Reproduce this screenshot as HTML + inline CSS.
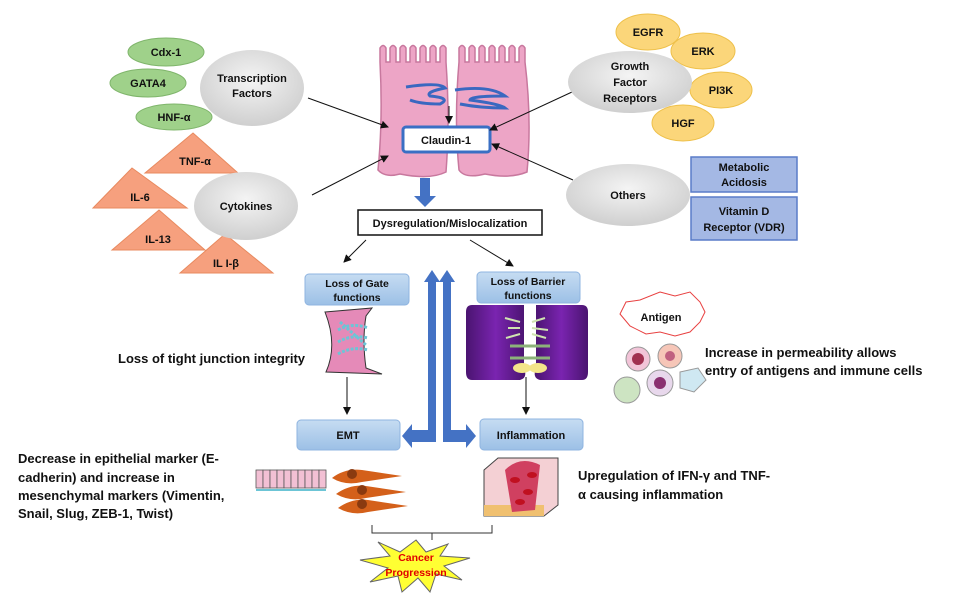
<!DOCTYPE html>
<html><head><meta charset="utf-8"><style>
html,body{margin:0;padding:0;background:#fff}
svg{display:block}
text{font-family:"Liberation Sans",sans-serif;font-weight:bold;fill:#111}
</style></head><body>
<svg width="961" height="601" viewBox="0 0 961 601" xmlns="http://www.w3.org/2000/svg">
<defs>
<radialGradient id="gr" cx="50%" cy="40%" r="60%"><stop offset="0" stop-color="#f4f4f4"/><stop offset="1" stop-color="#cfcfcf"/></radialGradient>
<linearGradient id="bl" x1="0" y1="0" x2="0" y2="1"><stop offset="0" stop-color="#c6dcf2"/><stop offset="1" stop-color="#9cc0e6"/></linearGradient>
<linearGradient id="pu" x1="0" y1="0" x2="1" y2="0"><stop offset="0" stop-color="#4a1470"/><stop offset="0.5" stop-color="#7a24b0"/><stop offset="1" stop-color="#4a1470"/></linearGradient>
<marker id="ar" markerWidth="8" markerHeight="8" refX="7" refY="4" orient="auto" markerUnits="userSpaceOnUse"><path d="M0,0 L8,4 L0,8 Z" fill="#111"/></marker>
</defs>

<!-- green ellipses -->
<g fill="#9fd18a" stroke="#7fb56b" stroke-width="1">
<ellipse cx="166" cy="52" rx="38" ry="14"/>
<ellipse cx="148" cy="83" rx="38" ry="14"/>
<ellipse cx="174" cy="117" rx="38" ry="13"/>
</g>
<text x="166" y="56" font-size="11" text-anchor="middle">Cdx-1</text>
<text x="148" y="87" font-size="11" text-anchor="middle">GATA4</text>
<text x="174" y="121" font-size="11" text-anchor="middle">HNF-α</text>
<ellipse cx="252" cy="88" rx="52" ry="38" fill="url(#gr)"/>
<text x="252" y="82" font-size="11" text-anchor="middle">Transcription</text>
<text x="252" y="97" font-size="11" text-anchor="middle">Factors</text>

<!-- triangles -->
<g fill="#f6a07e" stroke="#e88a5f" stroke-width="1">
<polygon points="193,133 238,173 145,173"/>
<polygon points="132,168 187,208 93,208"/>
<polygon points="159,210 205,250 112,250"/>
<polygon points="225,234 273,273 180,273"/>
</g>
<text x="195" y="165" font-size="11" text-anchor="middle">TNF-α</text>
<text x="140" y="201" font-size="11" text-anchor="middle">IL-6</text>
<text x="158" y="243" font-size="11" text-anchor="middle">IL-13</text>
<text x="226" y="267" font-size="11" text-anchor="middle">IL I-β</text>
<ellipse cx="246" cy="206" rx="52" ry="34" fill="url(#gr)"/>
<text x="246" y="210" font-size="11" text-anchor="middle">Cytokines</text>

<!-- cells -->
<g fill="#eda5c6" stroke="#c8789e" stroke-width="1.5">
<path d="M380,62 L380,48 Q383,43 386,48 L386,62 L390,62 L390,48 Q393,43 396,48 L396,62 L400,62 L400,48 Q403,43 406,48 L406,62 L410,62 L410,48 Q413,43 416,48 L416,62 L420,62 L420,48 Q423,43 426,48 L426,62 L430,62 L430,48 Q433,43 436,48 L436,62 L440,62 L440,48 Q443,43 446,48 L446,62 Q450,120 446,172 Q430,180 400,174 Q385,178 378,170 Q383,120 380,62 Z"/>
<path d="M459,62 L459,48 Q462,43 465,48 L465,62 L469,62 L469,48 Q472,43 475,48 L475,62 L479,62 L479,48 Q482,43 485,48 L485,62 L489,62 L489,48 Q492,43 495,48 L495,62 L499,62 L499,48 Q502,43 505,48 L505,62 L509,62 L509,48 Q512,43 515,48 L515,62 L519,62 L519,48 Q522,43 525,48 L525,62 Q532,120 527,172 Q510,179 485,174 Q465,179 459,170 Q454,120 459,62 Z"/>
</g>
<g fill="none" stroke="#3a68c0" stroke-width="3">
<path d="M406,87 Q440,82 445,88 Q425,92 430,96 Q452,98 440,104 Q420,104 410,100"/>
<path d="M455,90 Q490,85 505,96 Q470,96 470,100 Q500,104 505,108 Q480,108 460,104"/>
</g>
<line x1="449" y1="106" x2="449" y2="123" stroke="#111" stroke-width="1" marker-end="url(#ar)"/>
<rect x="403" y="127" width="87" height="25" rx="3" fill="#fff" stroke="#3a6fc4" stroke-width="3"/>
<text x="446" y="144" font-size="11" text-anchor="middle">Claudin-1</text>

<!-- connector lines -->
<g stroke="#111" stroke-width="1" fill="none" marker-end="url(#ar)">
<line x1="308" y1="98" x2="388" y2="127"/>
<line x1="312" y1="195" x2="388" y2="156"/>
<line x1="572" y1="92" x2="490" y2="130"/>
<line x1="573" y1="180" x2="492" y2="144"/>
<line x1="366" y1="240" x2="344" y2="262"/>
<line x1="470" y1="240" x2="513" y2="266"/>
<line x1="347" y1="377" x2="347" y2="414"/>
<line x1="526" y1="377" x2="526" y2="414"/>
</g>

<!-- right side -->
<g fill="#fbd67a" stroke="#eec04a" stroke-width="1">
<ellipse cx="648" cy="32" rx="32" ry="18"/>
<ellipse cx="703" cy="51" rx="32" ry="18"/>
<ellipse cx="721" cy="90" rx="31" ry="18"/>
<ellipse cx="683" cy="123" rx="31" ry="18"/>
</g>
<ellipse cx="630" cy="82" rx="62" ry="31" fill="url(#gr)"/>
<text x="648" y="36" font-size="11" text-anchor="middle">EGFR</text>
<text x="703" y="55" font-size="11" text-anchor="middle">ERK</text>
<text x="721" y="94" font-size="11" text-anchor="middle">PI3K</text>
<text x="683" y="127" font-size="11" text-anchor="middle">HGF</text>
<text x="630" y="70" font-size="11" text-anchor="middle">Growth</text>
<text x="630" y="86" font-size="11" text-anchor="middle">Factor</text>
<text x="630" y="102" font-size="11" text-anchor="middle">Receptors</text>
<ellipse cx="628" cy="195" rx="62" ry="31" fill="url(#gr)"/>
<text x="628" y="199" font-size="11" text-anchor="middle">Others</text>
<rect x="691" y="157" width="106" height="35" fill="#a4b8e4" stroke="#5a7cc8" stroke-width="1.5"/>
<rect x="691" y="197" width="106" height="43" fill="#a4b8e4" stroke="#5a7cc8" stroke-width="1.5"/>
<text x="744" y="171" font-size="11" text-anchor="middle">Metabolic</text>
<text x="744" y="186" font-size="11" text-anchor="middle">Acidosis</text>
<text x="744" y="215" font-size="11" text-anchor="middle">Vitamin D</text>
<text x="744" y="231" font-size="11" text-anchor="middle">Receptor (VDR)</text>

<!-- blue down arrow -->
<polygon points="420,178 430,178 430,196 436,196 425,207 414,196 420,196" fill="#4472c4"/>
<rect x="358" y="210" width="184" height="25" fill="#fff" stroke="#111" stroke-width="1.5"/>
<text x="450" y="227" font-size="11" text-anchor="middle">Dysregulation/Mislocalization</text>

<!-- blue boxes -->
<g fill="url(#bl)" stroke="#8fb4e0" stroke-width="1">
<rect x="305" y="274" width="104" height="31" rx="4"/>
<rect x="477" y="272" width="103" height="31" rx="4"/>
<rect x="297" y="420" width="103" height="30" rx="4"/>
<rect x="480" y="419" width="103" height="31" rx="4"/>
</g>
<text x="357" y="287" font-size="10.5" text-anchor="middle">Loss of Gate</text>
<text x="357" y="301" font-size="10.5" text-anchor="middle">functions</text>
<text x="528" y="285" font-size="10.5" text-anchor="middle">Loss of Barrier</text>
<text x="528" y="299" font-size="10.5" text-anchor="middle">functions</text>
<text x="348" y="439" font-size="11" text-anchor="middle">EMT</text>
<text x="531" y="439" font-size="11" text-anchor="middle">Inflammation</text>

<!-- double arrows -->
<path d="M432,270 L440,282 L436,282 L436,442 L412,442 L412,448 L402,436 L412,424 L412,430 L428,430 L428,282 L424,282 Z" fill="#4472c4"/>
<path d="M447,270 L455,282 L451,282 L451,430 L466,430 L466,424 L476,436 L466,448 L466,442 L443,442 L443,282 L439,282 Z" fill="#4472c4"/>

<!-- gate image -->
<path d="M325,312 L372,308 L366,316 Q362,340 366,368 L382,374 L326,372 Q338,345 325,312 Z" fill="#e58ab8" stroke="#333" stroke-width="1"/>
<g stroke="#6cc5d6" stroke-width="3" fill="none" stroke-dasharray="3,1.5">
<path d="M338,330 Q352,322 368,328"/><path d="M338,342 Q352,334 368,338"/><path d="M338,354 Q352,346 368,350"/><path d="M340,322 L366,345"/>
</g>

<!-- barrier image -->
<path d="M472,305 L524,305 L524,368 Q528,378 520,380 L472,380 Q466,380 466,372 L466,312 Q466,305 472,305 Z" fill="url(#pu)"/>
<path d="M536,305 L582,305 Q588,305 588,312 L588,372 Q588,380 582,380 L540,380 Q532,378 536,368 Z" fill="url(#pu)"/>
<g stroke="#cfe3b0" stroke-width="2" fill="none">
<path d="M505,318 L520,322 M508,328 L520,328 M506,338 L520,334 M545,318 L532,322 M548,330 L532,328 M546,338 L532,334"/>
</g>
<g stroke="#8cb27a" stroke-width="3">
<line x1="510" y1="346" x2="550" y2="346"/><line x1="510" y1="358" x2="550" y2="358"/>
</g>
<ellipse cx="522" cy="368" rx="9" ry="5" fill="#f3e58a"/><ellipse cx="538" cy="368" rx="9" ry="5" fill="#f3e58a"/>

<!-- antigen -->
<polygon points="660,292 675,296 690,292 700,302 705,312 700,322 690,332 675,336 660,332 646,334 630,326 620,314 626,302 640,300" fill="#fff" stroke="#e84040" stroke-width="1"/>
<text x="661" y="321" font-size="11" text-anchor="middle">Antigen</text>
<g stroke="#999" stroke-width="1">
<circle cx="638" cy="359" r="12" fill="#f2c4d8"/><circle cx="670" cy="356" r="12" fill="#f6c6b8"/>
<circle cx="627" cy="390" r="13" fill="#cde4c2"/><circle cx="660" cy="383" r="13" fill="#e8d8ec"/>
<path d="M680,372 L698,368 L706,380 L694,392 L680,388 Z" fill="#cfe8f2"/>
</g>
<circle cx="638" cy="359" r="6" fill="#a03050"/><circle cx="670" cy="356" r="5" fill="#c06080"/><circle cx="660" cy="383" r="6" fill="#8a3070"/>
<text x="705" y="357" font-size="13">Increase in permeability allows</text>
<text x="705" y="375" font-size="13">entry of antigens and immune cells</text>

<!-- left texts -->
<text x="118" y="363" font-size="13">Loss of tight junction integrity</text>
<text x="18" y="463" font-size="13">Decrease in epithelial marker (E-</text>
<text x="18" y="482" font-size="13">cadherin) and increase in</text>
<text x="18" y="500" font-size="13">mesenchymal markers (Vimentin,</text>
<text x="18" y="518" font-size="13">Snail, Slug, ZEB-1, Twist)</text>

<!-- epithelial row -->
<g fill="#f2c0d4" stroke="#555" stroke-width="0.8">
<rect x="256" y="470" width="7" height="18"/><rect x="263" y="470" width="7" height="18"/><rect x="270" y="470" width="7" height="18"/><rect x="277" y="470" width="7" height="18"/><rect x="284" y="470" width="7" height="18"/><rect x="291" y="470" width="7" height="18"/><rect x="298" y="470" width="7" height="18"/><rect x="305" y="470" width="7" height="18"/><rect x="312" y="470" width="7" height="18"/><rect x="319" y="470" width="7" height="18"/>
</g>
<line x1="256" y1="490" x2="326" y2="490" stroke="#6cc5d6" stroke-width="2"/>
<!-- mesenchymal -->
<g fill="#d4601a">
<path d="M332,478 Q345,468 362,470 L402,476 L362,482 Q345,486 332,478 Z"/>
<path d="M336,494 Q350,484 366,486 L406,492 L366,498 Q350,502 336,494 Z"/>
<path d="M338,508 Q352,498 368,500 L408,506 L368,512 Q352,516 338,508 Z"/>
</g>
<g fill="#8a3a10"><circle cx="352" cy="474" r="5"/><circle cx="362" cy="490" r="5"/><circle cx="362" cy="504" r="5"/></g>

<!-- inflammation tissue -->
<path d="M484,470 L498,458 L558,458 L558,505 L544,516 L484,516 Z" fill="#f4d0d4" stroke="#444" stroke-width="1"/>
<rect x="484" y="505" width="60" height="11" fill="#f0c070"/>
<path d="M505,470 Q520,455 540,465 L535,510 L512,512 Z" fill="#d04060"/>
<g fill="#c01020"><ellipse cx="515" cy="480" rx="5" ry="3"/><ellipse cx="528" cy="492" rx="5" ry="3"/><ellipse cx="520" cy="502" rx="5" ry="3"/><ellipse cx="532" cy="475" rx="5" ry="3"/></g>
<text x="578" y="480" font-size="13">Upregulation of IFN-γ and TNF-</text>
<text x="578" y="499" font-size="13">α causing inflammation</text>

<!-- bracket -->
<path d="M372,525 L372,533 L492,533 L492,525 M432,533 L432,540" fill="none" stroke="#333" stroke-width="1"/>
<!-- starburst -->
<polygon points="416,540 426,552 448,544 440,556 470,558 444,566 462,580 436,574 430,592 418,578 402,592 398,576 370,582 388,568 360,560 390,556 378,542 400,552" fill="#ffff33" stroke="#666" stroke-width="1"/>
<text x="416" y="561" font-size="10.5" text-anchor="middle" style="fill:#e00000">Cancer</text>
<text x="416" y="576" font-size="10.5" text-anchor="middle" style="fill:#e00000">Progression</text>
</svg>
</body></html>
